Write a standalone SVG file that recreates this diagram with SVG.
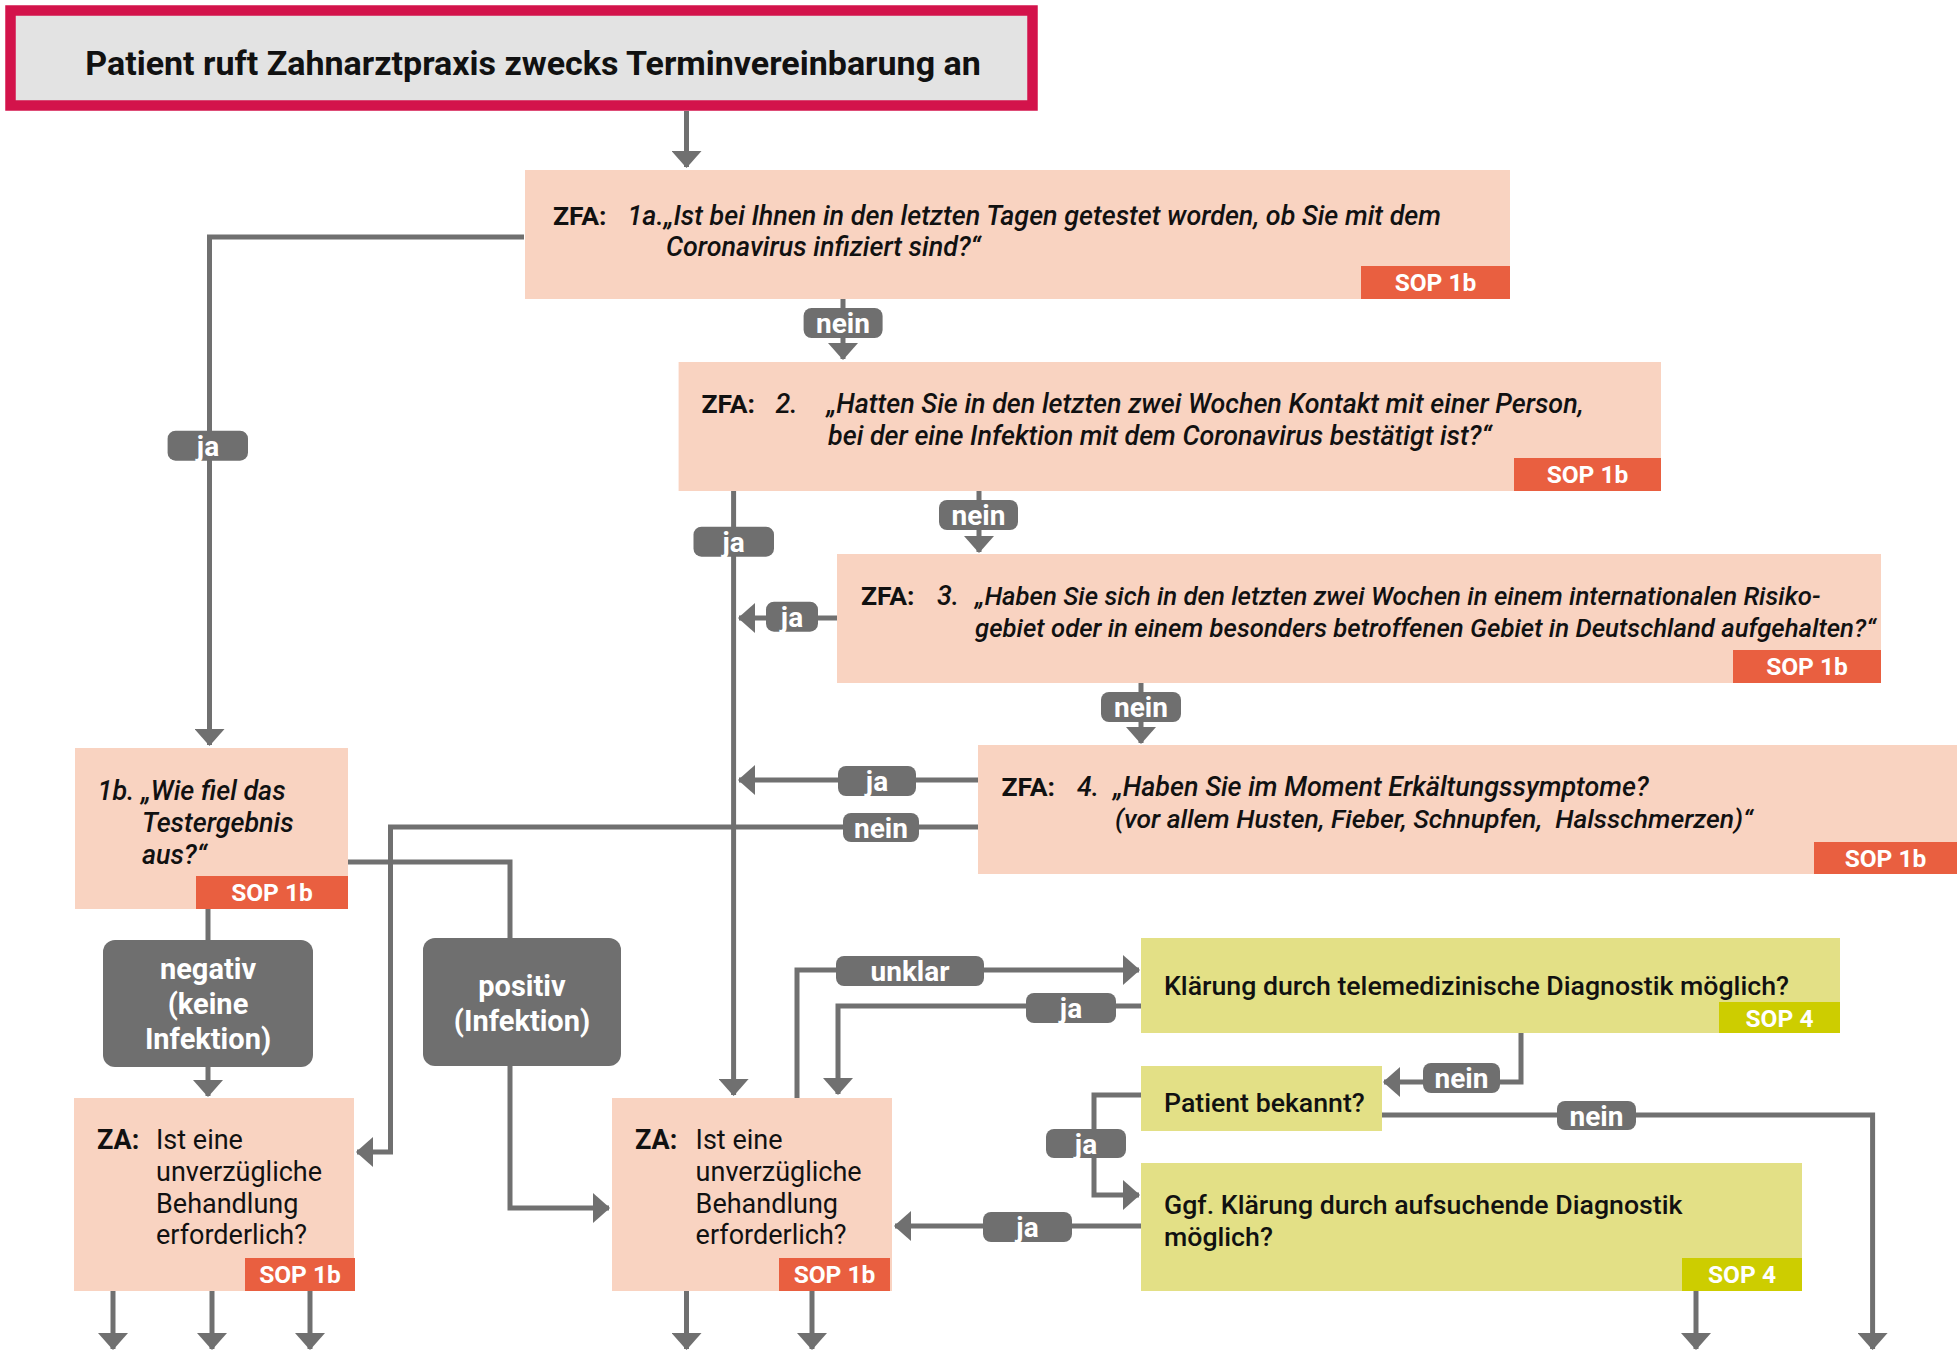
<svg xmlns="http://www.w3.org/2000/svg" width="1957" height="1351" viewBox="0 0 1957 1351">
<defs>
<style>
.q{fill:#f9d3c1}
.g{fill:#e3e086}
.b1{fill:#e95f40}
.b4{fill:#cdcd00}
.bt{font-family:Roboto,"Liberation Sans",sans-serif;font-weight:bold;font-size:24.5px;fill:#fff;text-anchor:middle}
.t{font-family:Roboto,"Liberation Sans",sans-serif;font-size:26.5px;fill:#111}
.i{font-style:italic;font-weight:500;font-size:26.9px}
.bd{font-weight:bold}
.md{font-weight:500;font-size:26.7px}
.za{font-size:27px}
.dk{fill:#6f6f6f}
.dt{font-family:Roboto,"Liberation Sans",sans-serif;font-weight:bold;font-size:29px;fill:#fff;text-anchor:middle}
.pill{fill:#6f6f6f}
.pt{font-family:Roboto,"Liberation Sans",sans-serif;font-weight:bold;font-size:28px;fill:#fff;text-anchor:middle}
.c{fill:none;stroke:#707070;stroke-width:5}
</style>
<marker id="ah" markerUnits="userSpaceOnUse" markerWidth="17" markerHeight="30" viewBox="0 0 17 30" refX="16" refY="15" orient="auto">
<path d="M0,0 L17,15 L0,30 z" fill="#707070"/>
</marker>
</defs>
<rect width="1957" height="1351" fill="#fff"/>

<g id="connectors">
<path class="c" d="M686.5,111 V167" marker-end="url(#ah)"/>
<path class="c" d="M524,237 H209.5 V745" marker-end="url(#ah)"/>
<path class="c" d="M843,299 V359" marker-end="url(#ah)"/>
<path class="c" d="M979,491 V552" marker-end="url(#ah)"/>
<path class="c" d="M733.6,491 V1095" marker-end="url(#ah)"/>
<path class="c" d="M837,618 H739" marker-end="url(#ah)"/>
<path class="c" d="M1141,683 V743" marker-end="url(#ah)"/>
<path class="c" d="M978,780 H739" marker-end="url(#ah)"/>
<path class="c" d="M978,827 H390.5 V1152 H357" marker-end="url(#ah)"/>
<path class="c" d="M348,862 H510 V940"/>
<path class="c" d="M510,1064 V1208 H609" marker-end="url(#ah)"/>
<path class="c" d="M208,909 V942"/>
<path class="c" d="M208,1065 V1096" marker-end="url(#ah)"/>
<path class="c" d="M797,1098 V970 H1139" marker-end="url(#ah)"/>
<path class="c" d="M1141,1006 H838 V1094" marker-end="url(#ah)"/>
<path class="c" d="M1521,1033 V1082 H1384" marker-end="url(#ah)"/>
<path class="c" d="M1382,1115 H1872.6 V1349" marker-end="url(#ah)"/>
<path class="c" d="M1141,1095 H1094 V1195 H1139" marker-end="url(#ah)"/>
<path class="c" d="M1141,1226 H895" marker-end="url(#ah)"/>
<path class="c" d="M113,1291 V1349" marker-end="url(#ah)"/>
<path class="c" d="M212,1291 V1349" marker-end="url(#ah)"/>
<path class="c" d="M310,1291 V1349" marker-end="url(#ah)"/>
<path class="c" d="M686.5,1291 V1349" marker-end="url(#ah)"/>
<path class="c" d="M812,1291 V1349" marker-end="url(#ah)"/>
<path class="c" d="M1696,1291 V1349" marker-end="url(#ah)"/>

<g id="labels">
<rect class="pill" x="803.6" y="308" width="79" height="30" rx="8"/><text class="pt" x="843" y="333">nein</text>
<rect class="pill" x="167.6" y="430.7" width="80.4" height="30" rx="8"/><text class="pt" x="208" y="455.7">ja</text>
<rect class="pill" x="939" y="500" width="79" height="30" rx="8"/><text class="pt" x="978.5" y="525">nein</text>
<rect class="pill" x="693.5" y="526.7" width="80.5" height="30" rx="8"/><text class="pt" x="733.7" y="551.7">ja</text>
<rect class="pill" x="766" y="601.7" width="52" height="30" rx="8"/><text class="pt" x="792" y="626.7">ja</text>
<rect class="pill" x="1101" y="692" width="80" height="30" rx="8"/><text class="pt" x="1141" y="717">nein</text>
<rect class="pill" x="838" y="766" width="78" height="30" rx="8"/><text class="pt" x="877" y="791">ja</text>
<rect class="pill" x="843" y="813" width="76" height="29" rx="8"/><text class="pt" x="881" y="837.5">nein</text>
<rect class="pill" x="836" y="956" width="148" height="30" rx="8"/><text class="pt" x="910" y="981">unklar</text>
<rect class="pill" x="1026" y="993" width="90" height="30" rx="8"/><text class="pt" x="1071" y="1018">ja</text>
<rect class="pill" x="1423" y="1063" width="77" height="30" rx="8"/><text class="pt" x="1461.5" y="1088">nein</text>
<rect class="pill" x="1557" y="1101" width="79" height="29" rx="8"/><text class="pt" x="1596.5" y="1125.5">nein</text>
<rect class="pill" x="1046" y="1129" width="80" height="29" rx="8"/><text class="pt" x="1086" y="1153.5">ja</text>
<rect class="pill" x="983" y="1212" width="89" height="30" rx="8"/><text class="pt" x="1027.5" y="1237">ja</text>
</g>
</g>

<g id="start">
<rect x="10.5" y="10.5" width="1022" height="95" fill="#e3e3e3" stroke="#d3134b" stroke-width="10.5"/>
<text x="533" y="75" font-family="Roboto, 'Liberation Sans', sans-serif" font-weight="bold" font-size="34" fill="#111" text-anchor="middle">Patient ruft Zahnarztpraxis zwecks Terminvereinbarung an</text>
</g>

<g id="q1a">
<rect class="q" x="525" y="170" width="985" height="129"/>
<rect class="b1" x="1361" y="266" width="149" height="33"/>
<text class="bt" x="1435.5" y="291">SOP 1b</text>
<text class="t bd" x="553" y="225">ZFA:</text>
<text class="t i" x="627.5" y="225">1a.„Ist bei Ihnen in den letzten Tagen getestet worden, ob Sie mit dem</text>
<text class="t i" x="666" y="256">Coronavirus infiziert sind?“</text>
</g>

<g id="q2">
<rect class="q" x="678.6" y="362" width="982.4" height="129"/>
<rect class="b1" x="1514" y="458" width="147" height="33"/>
<text class="bt" x="1587.5" y="483">SOP 1b</text>
<text class="t bd" x="701.5" y="413">ZFA:</text>
<text class="t i" x="775.5" y="413">2.</text>
<text class="t i" x="826.5" y="413">„Hatten Sie in den letzten zwei Wochen Kontakt mit einer Person,</text>
<text class="t i" x="828" y="445">bei der eine Infektion mit dem Coronavirus bestätigt ist?“</text>
</g>

<g id="q3">
<rect class="q" x="837" y="554" width="1044" height="129"/>
<rect class="b1" x="1733" y="650" width="148" height="33"/>
<text class="bt" x="1807" y="675">SOP 1b</text>
<text class="t bd" x="861" y="605">ZFA:</text>
<text class="t i" x="937" y="605">3.</text>
<text class="t i" x="975" y="605" style="font-size:25.75px">„Haben Sie sich in den letzten zwei Wochen in einem internationalen Risiko-</text>
<text class="t i" x="975" y="637" style="font-size:25.75px">gebiet oder in einem besonders betroffenen Gebiet in Deutschland aufgehalten?“</text>
</g>

<g id="q4">
<rect class="q" x="978" y="745" width="979" height="129"/>
<rect class="b1" x="1814" y="842" width="143" height="32"/>
<text class="bt" x="1885.5" y="866.5">SOP 1b</text>
<text class="t bd" x="1001.5" y="796">ZFA:</text>
<text class="t i" x="1077" y="796">4.</text>
<text class="t i" x="1113" y="796">„Haben Sie im Moment Erkältungssymptome?</text>
<text class="t i" x="1115" y="828" style="white-space:pre;font-size:26.5px">(vor allem Husten, Fieber, Schnupfen,  Halsschmerzen)“</text>
</g>

<g id="q1b">
<rect class="q" x="75" y="748" width="273" height="161"/>
<rect class="b1" x="196" y="876" width="152" height="33"/>
<text class="bt" x="272" y="901">SOP 1b</text>
<text class="t i" x="97.6" y="800">1b. „Wie fiel das</text>
<text class="t i" x="142" y="832">Testergebnis</text>
<text class="t i" x="142" y="864">aus?“</text>
</g>

<g id="negativ">
<rect class="dk" x="103" y="940" width="210" height="127" rx="12"/>
<text class="dt" x="208" y="979">negativ</text>
<text class="dt" x="208" y="1014">(keine</text>
<text class="dt" x="208" y="1049">Infektion)</text>
</g>

<g id="positiv">
<rect class="dk" x="423" y="938" width="198" height="128" rx="12"/>
<text class="dt" x="522" y="996">positiv</text>
<text class="dt" x="522" y="1031">(Infektion)</text>
</g>

<g id="za1">
<rect class="q" x="74" y="1098" width="280" height="193"/>
<rect class="b1" x="245" y="1258" width="110" height="33"/>
<text class="bt" x="300" y="1283">SOP 1b</text>
<text class="t za bd" x="97" y="1149">ZA:</text>
<text class="t za" x="156" y="1149">Ist eine</text>
<text class="t za" x="156" y="1181">unverzügliche</text>
<text class="t za" x="156" y="1213">Behandlung</text>
<text class="t za" x="156" y="1244">erforderlich?</text>
</g>

<g id="za2">
<rect class="q" x="612" y="1098" width="280" height="193"/>
<rect class="b1" x="779" y="1258" width="111" height="33"/>
<text class="bt" x="834.5" y="1283">SOP 1b</text>
<text class="t za bd" x="635" y="1149">ZA:</text>
<text class="t za" x="695.6" y="1149">Ist eine</text>
<text class="t za" x="695.6" y="1181">unverzügliche</text>
<text class="t za" x="695.6" y="1213">Behandlung</text>
<text class="t za" x="695.6" y="1244">erforderlich?</text>
</g>

<g id="tele">
<rect class="g" x="1141" y="938" width="699" height="95"/>
<rect class="b4" x="1719" y="1002" width="121" height="31"/>
<text class="bt" x="1779.5" y="1026.5">SOP 4</text>
<text class="t md" x="1164" y="995">Klärung durch telemedizinische Diagnostik möglich?</text>
</g>

<g id="bekannt">
<rect class="g" x="1141" y="1066" width="241" height="65"/>
<text class="t md" x="1164" y="1112">Patient bekannt?</text>
</g>

<g id="aufsuchend">
<rect class="g" x="1141" y="1163" width="661" height="128"/>
<rect class="b4" x="1682" y="1258" width="120" height="33"/>
<text class="bt" x="1742" y="1283">SOP 4</text>
<text class="t md" x="1164" y="1214">Ggf. Klärung durch aufsuchende Diagnostik</text>
<text class="t md" x="1164" y="1246">möglich?</text>
</g>
</svg>
